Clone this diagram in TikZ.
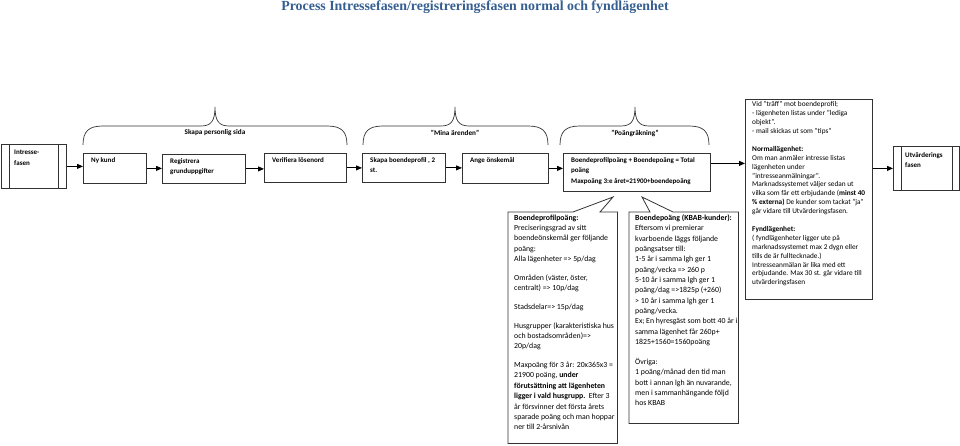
\documentclass[tikz,border=0pt]{standalone}
\usepackage{fontspec}
\setmainfont{Carlito}
\newfontfamily\titlefont{Liberation Serif}
\usetikzlibrary{arrows.meta}
\definecolor{linec}{RGB}{50,50,50}
\definecolor{titlec}{RGB}{54,95,145}

\begin{document}
\begin{tikzpicture}[x=1pt,y=-1pt,
  box/.style 2 args={draw=linec,line width=.8pt,anchor=north west,minimum width=#1pt,minimum height=#2pt,inner sep=0pt},
  txt/.style={anchor=north west,align=left,inner xsep=8pt,inner ysep=4pt,font=\fontsize{7}{10.5}\selectfont\bfseries},
  note/.style={anchor=north west,align=left,inner xsep=6pt,inner ysep=2.5pt,font=\fontsize{7.8}{10.35}\selectfont},
  arr/.style={draw=black,line width=.8pt,-{Triangle[length=6pt,width=5pt]}},
  brace/.style={draw=linec,line width=.7pt}]
  \useasboundingbox (0,0) rectangle (960,446);
  \node[font=\titlefont\bfseries\fontsize{13.9}{16}\selectfont,text=titlec] (title) at (475,7.5) {Process Intressefasen/registreringsfasen normal och fyndlägenhet};

  \foreach \a/\m/\b/\t [count=\i] in {83/215/347/Skapa personlig sida,363/455/548/”Mina ärenden”,560/635/709/”Poängräkning”}{
    \draw[brace] (\a,145) .. controls (\a,131) and (\a+6,126) .. (\a+20,126) -- (\m-14,126) .. controls (\m-4,126) and (\m,121) .. (\m,107) .. controls (\m,121) and (\m+4,126) .. (\m+14,126) -- (\b-20,126) .. controls (\b-6,126) and (\b,131) .. (\b,145);
    \node[font=\fontsize{7.2}{8}\selectfont\bfseries] (br\i) at (\m,133) {\t};
  }

  \node[box={65}{44},label={[txt,inner xsep=13pt,inner ysep=6pt]north west:{Intresse-\\fasen}}] (intro) at (1,144) {};
  \draw[linec,line width=.8pt] ([xshift=8pt]intro.north west) -- ([xshift=8pt]intro.south west) ([xshift=-8pt]intro.north east) -- ([xshift=-8pt]intro.south east);
  \node[box={63}{30},label={[txt]north west:{Ny kund}}] (nykund) at (83,153) {};
  \node[box={83}{29},label={[txt]north west:{Registrera\\grunduppgifter}}] (reg) at (162,154) {};
  \node[box={82}{29},label={[txt]north west:{Verifiera lösenord}}] (verif) at (264,153) {};
  \node[box={83}{29},label={[txt]north west:{Skapa boendeprofil , 2\\st.}}] (skapa) at (362,153) {};
  \node[box={86}{30},label={[txt]north west:{Ange önskemål}}] (ange) at (462,153) {};
  \node[box={147}{38},label={[txt]north west:{Boendeprofilpoäng + Boendepoäng = Total\\poäng\\Maxpoäng 3:e året=21900+boendepoäng}}] (total) at (563,153) {};
  \node[box={127}{200},label={[note,font=\fontsize{7.3}{8.9}\selectfont,inner xsep=7pt,inner ysep=2.5pt]north west:{Vid ”träff” mot boendeprofil;\\- lägenheten listas under ”lediga\\objekt”.\\- mail skickas ut som ”tips”\\[8.9pt]\textbf{Normallägenhet:}\\Om man anmäler intresse listas\\lägenheten under\\”intresseanmälningar”.\\Marknadssystemet väljer sedan ut\\vilka som får ett erbjudande (\textbf{minst 40}\\\textbf{\% externa)} De kunder som tackat ”ja”\\går vidare till Utvärderingsfasen.\\[8.9pt]\textbf{Fyndlägenhet:}\\( fyndlägenheter ligger ute på\\marknadssystemet max 2 dygn eller\\tills de är fulltecknade.)\\Intresseanmälan är lika med ett\\erbjudande. Max 30 st. går vidare till\\utvärderingsfasen}}] (info) at (745,99) {};
  \node[box={66}{44},label={[txt,inner xsep=12pt,inner ysep=6pt]north west:{Utvärderings\\fasen}}] (utv) at (893,146) {};
  \draw[linec,line width=.8pt] ([xshift=8pt]utv.north west) -- ([xshift=8pt]utv.south west) ([xshift=-7pt]utv.north east) -- ([xshift=-7pt]utv.south east);

  \node[anchor=north west,minimum width=109pt,minimum height=231pt,inner sep=0pt,label={[note]north west:{\textbf{Boendeprofilpoäng:}\\Preciseringsgrad av sitt\\boendeönskemål ger följande\\poäng:\\Alla lägenheter => 5p/dag\\[8.4pt]Områden (väster, öster,\\centralt) => 10p/dag\\[8.4pt]Stadsdelar=> 15p/dag\\[8.4pt]Husgrupper (karakteristiska hus\\och bostadsområden)=>\\20p/dag\\[8.4pt]Maxpoäng för 3 år: 20x365x3 =\\21900 poäng, \textbf{under}\\\textbf{förutsättning att lägenheten}\\\textbf{ligger i vald husgrupp.}\ \ Efter 3\\år försvinner det första årets\\sparade poäng och man hoppar\\ner till 2-årsnivån}}] (prof) at (508,212) {};
  \node[anchor=north west,minimum width=109pt,minimum height=211pt,inner sep=0pt,label={[note]north west:{\textbf{Boendepoäng (KBAB-kunder):}\\Eftersom vi premierar\\kvarboende läggs följande\\poängsatser till:\\1-5 år i samma lgh ger 1\\poäng/vecka => 260 p\\5-10 år i samma lgh ger 1\\poäng/dag =>1825p (+260)\\> 10 år i samma lgh ger 1\\poäng/vecka.\\Ex; En hyresgäst som bott 40 år i\\samma lägenhet får 260p+\\1825+1560=1560poäng\\[9.5pt]Övriga:\\1 poäng/månad den tid man\\bott i annan lgh än nuvarande,\\men i sammanhängande följd\\hos KBAB}}] (kbab) at (629,212) {};
  \coordinate (tipa) at (613,197);
  \coordinate (tipb) at (642,197);
  \draw[linec,line width=.8pt] (prof.north west) -- ++(65,0) -- (tipa) -- ([xshift=92pt]prof.north west) -- (prof.north east) -- (prof.south east) -- (prof.south west) -- cycle;
  \draw[linec,line width=.8pt] (kbab.north west) -- ++(21,0) -- (tipb) -- ([xshift=44pt]kbab.north west) -- (kbab.north east) -- (kbab.south east) -- (kbab.south west) -- cycle;

  \draw[arr] (intro.east) -- (nykund.west |- intro.east);
  \draw[arr] (nykund.east) -- (reg.west |- nykund.east);
  \draw[arr] (reg.east) -- (verif.west |- reg.east);
  \draw[arr] (verif.east) -- (skapa.west |- verif.east);
  \draw[arr] (skapa.east) -- (ange.west |- skapa.east);
  \draw[arr] (ange.east) -- (total.west |- ange.east);
  \path ([yshift=9pt]total.east) coordinate (t1);
  \draw[arr] (t1) -- (t1 -| info.west);
  \draw[arr] (info.east |- utv.west) -- (utv.west);
\end{tikzpicture}
\end{document}
